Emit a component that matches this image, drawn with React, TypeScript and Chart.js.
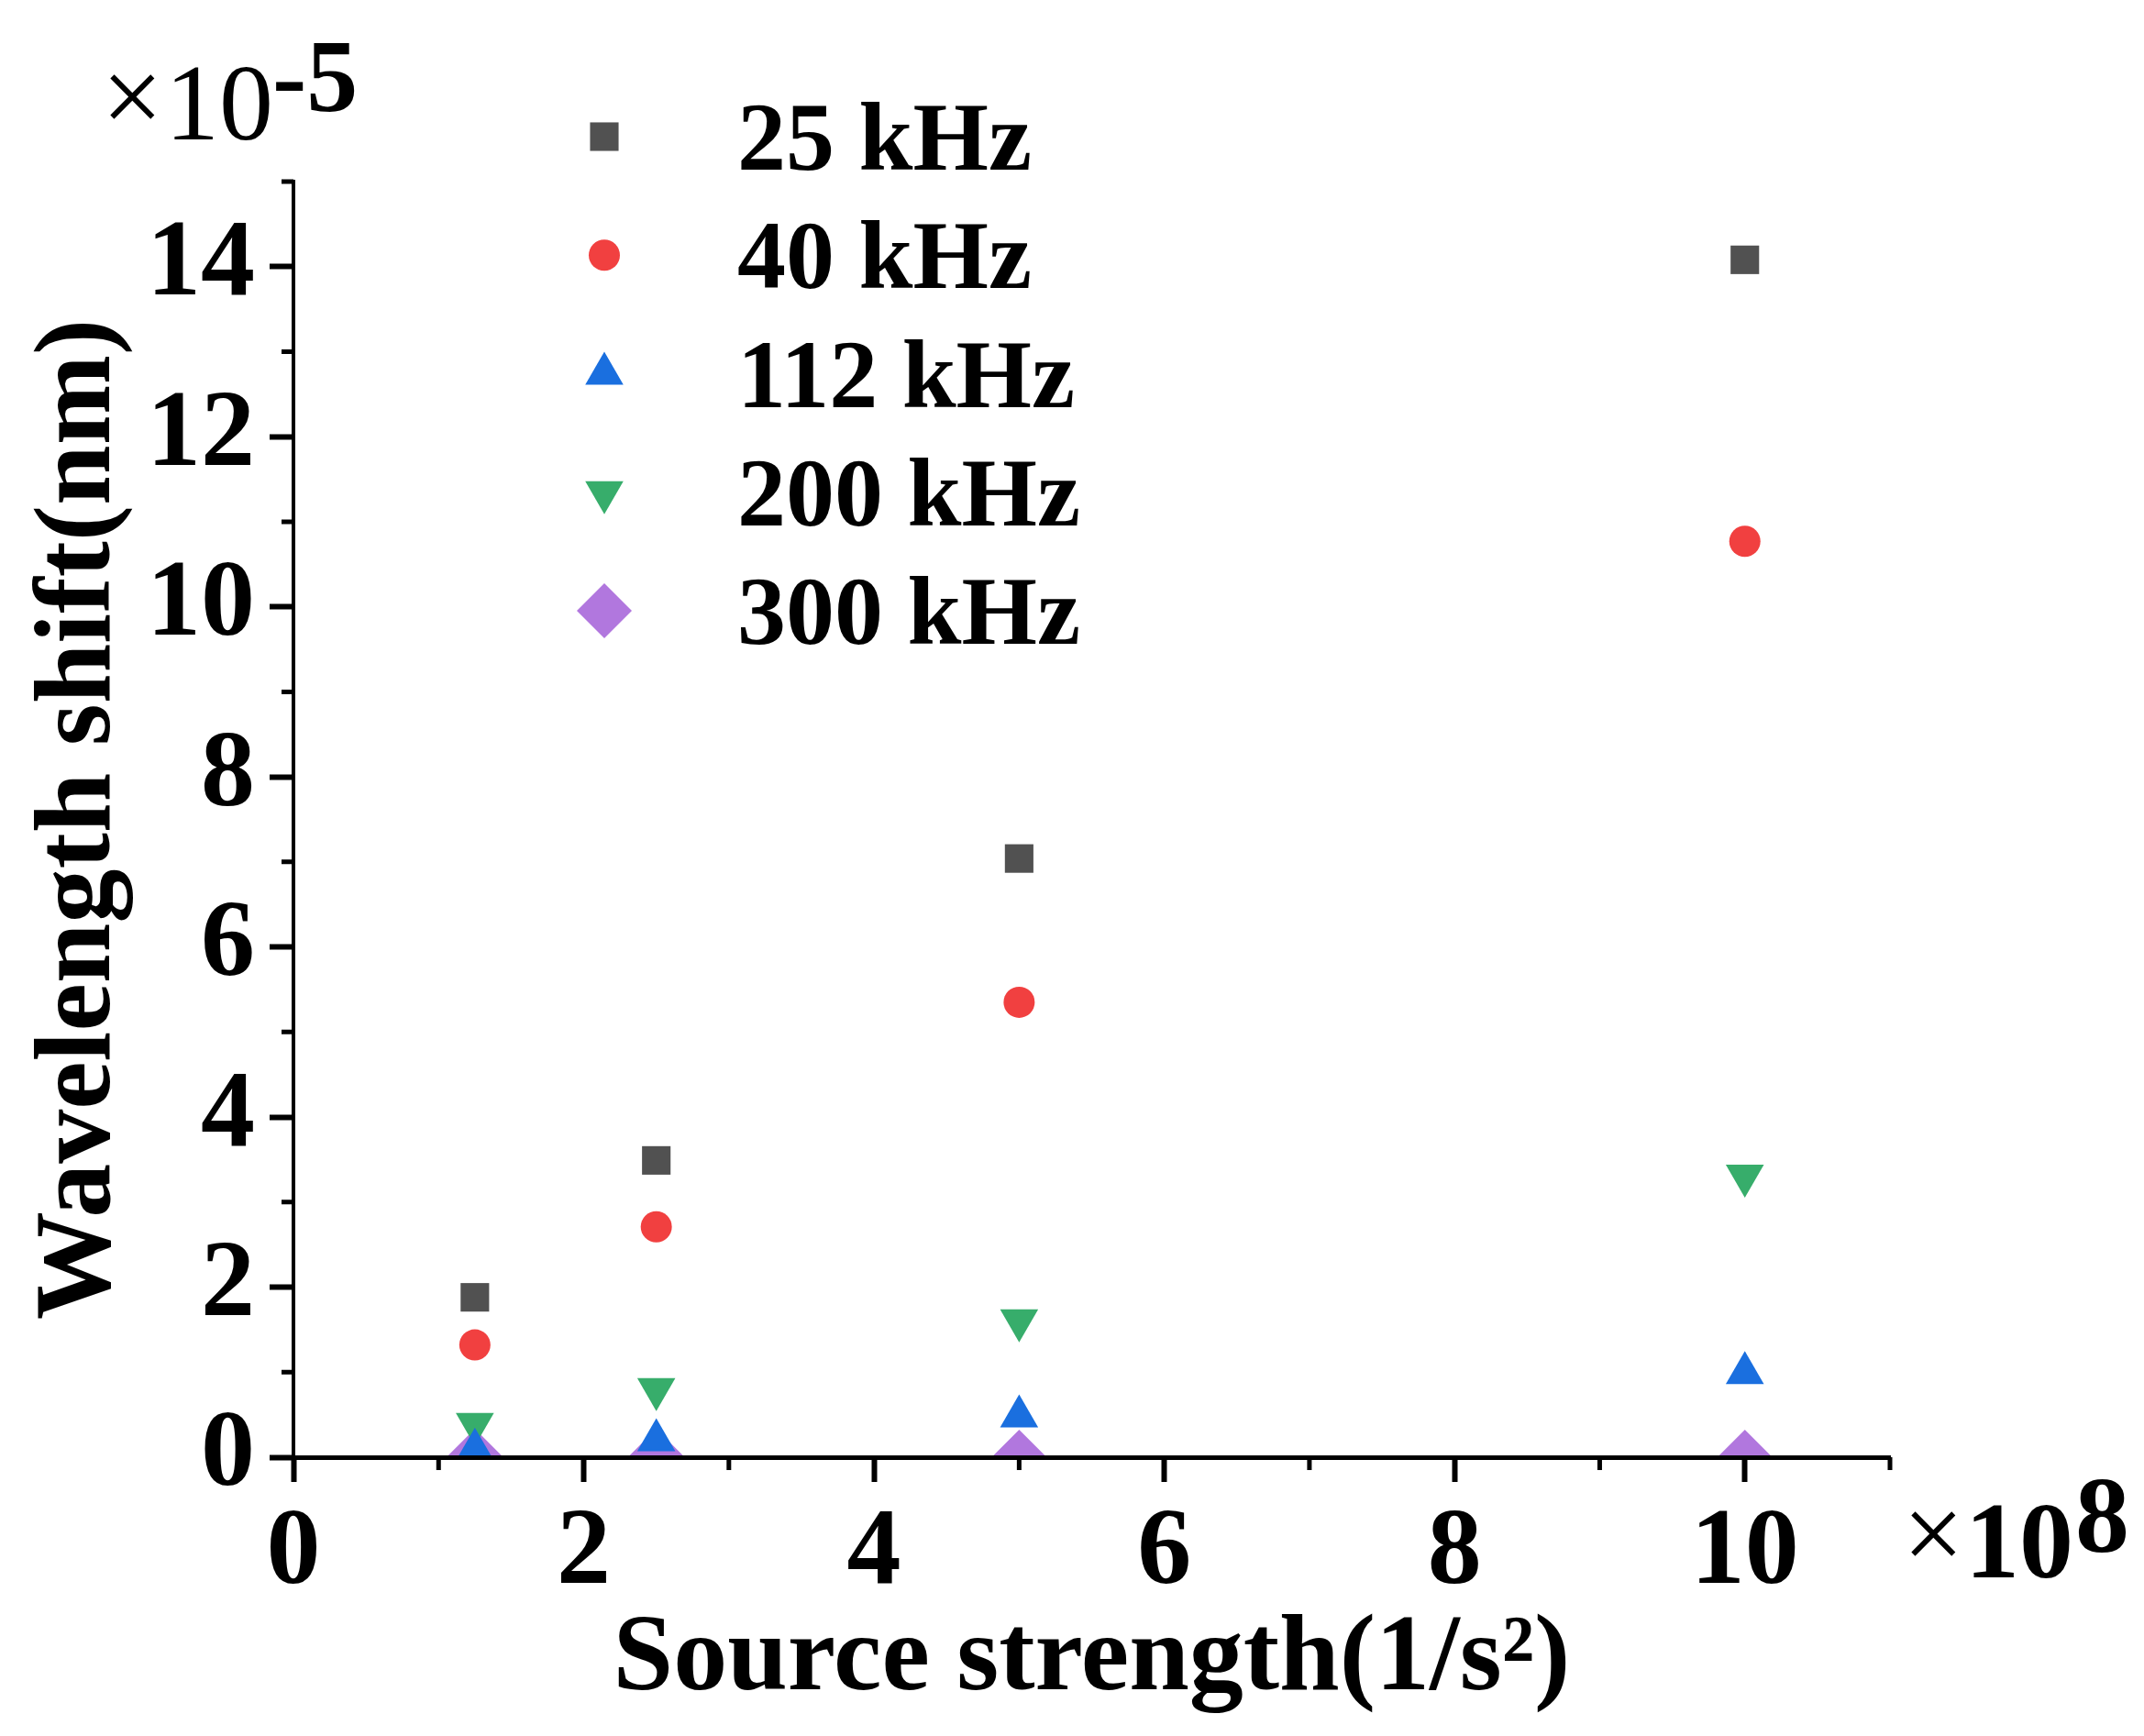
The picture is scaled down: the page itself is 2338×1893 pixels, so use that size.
import { useEffect, useRef } from 'react';
import Chart from 'chart.js/auto';
import { drawPoint } from 'chart.js/helpers';

// source strength, in units of 1e8 1/s^2
const sourceStrength = [1.25, 2.5, 5, 10];

const seriesLabels = ['25 kHz', '40 kHz', '112 kHz', '200 kHz', '300 kHz'];

// wavelength shift, in units of 1e-5 nm
const shift25 = [1.88, 3.49, 7.04, 14.08];
const shift40 = [1.32, 2.71, 5.35, 10.77];
const shift112 = [0.09, 0.2, 0.48, 0.99];
const shift200 = [0.39, 0.8, 1.61, 3.31];
const shift300 = [0.01, 0.01, 0, 0];

const seriesValues = [shift25, shift40, shift112, shift200, shift300];
const seriesColors = ['#515151', '#F14040', '#1A6FDF', '#37AD6B', '#B177DE'];
const seriesStyles = ['rect', 'circle', 'triangle', 'triangle', 'rectRot'];
const seriesRotation = [0, 0, 0, 180, 0];
const seriesRadius = [22, 17, 24, 24, 30];

const FONT = "'Liberation Serif', 'Times New Roman', serif";

// keep markers inside the plot box (points sitting on the x axis are cut in half)
const clipToArea = {
  id: 'clipToArea',
  beforeDatasetsDraw(chart: any) {
    const { ctx, chartArea } = chart;
    ctx.save();
    ctx.beginPath();
    ctx.rect(chartArea.left, chartArea.top, chartArea.right - chartArea.left, chartArea.bottom - chartArea.top);
    ctx.clip();
  },
  afterDatasetsDraw(chart: any) {
    chart.ctx.restore();
  }
};

const minorTicks = {
  id: 'minorTicks',
  afterDraw(chart: any) {
    const { ctx, chartArea, scales } = chart;
    const { x, y } = scales;
    ctx.save();
    ctx.strokeStyle = '#000';
    ctx.lineWidth = 5;
    ctx.beginPath();
    x.ticks.forEach((t: any) => {
      if (t.value % 2 !== 1) return;
      const px = x.getPixelForValue(t.value);
      ctx.moveTo(px, chartArea.bottom);
      ctx.lineTo(px, chartArea.bottom + 14);
    });
    y.ticks.forEach((t: any) => {
      if (t.value % 2 !== 1) return;
      const py = y.getPixelForValue(t.value);
      ctx.moveTo(chartArea.left, py);
      ctx.lineTo(chartArea.left - 13, py);
    });
    ctx.stroke();
    ctx.restore();
  }
};

const legendAndExponents = {
  id: 'legendAndExponents',
  afterDraw(chart: any) {
    const { ctx, chartArea } = chart;
    ctx.save();

    // legend, placed over the top-left part of the plot
    const mx = chartArea.left + 339;
    const tx = chartArea.left + 484;
    chart.data.datasets.forEach((ds: any, i: number) => {
      const ry = chartArea.top - 49 + i * 129.25;
      ctx.fillStyle = ds.backgroundColor;
      drawPoint(ctx, {
        pointStyle: ds.pointStyle,
        rotation: ds.pointRotation,
        radius: ds.pointRadius,
        borderWidth: 0
      }, mx, ry);
      ctx.fillStyle = '#000';
      ctx.font = `bold 106px ${FONT}`;
      ctx.textBaseline = 'alphabetic';
      ctx.textAlign = 'left';
      ctx.fillText(ds.label, tx, ry + 36);
    });

    // y multiplier, top left
    ctx.fillStyle = '#000';
    ctx.textAlign = 'left';
    ctx.textBaseline = 'alphabetic';
    const ly = chartArea.left;
    ctx.font = `118px ${FONT}`;
    ctx.fillText('×', ly - 209, 145);
    ctx.fillText('10', ly - 140, 152);
    ctx.font = `bold 112px ${FONT}`;
    ctx.fillText('-5', ly - 23, 121);

    // x multiplier, bottom right
    const rx = chartArea.right;
    const by = chartArea.bottom;
    ctx.font = `118px ${FONT}`;
    ctx.fillText('×', rx + 14, by + 123);
    ctx.font = `bold 118px ${FONT}`;
    ctx.fillText('10', rx + 82, by + 131);
    ctx.fillText('8', rx + 202, by + 103);

    ctx.restore();
  }
};

export default function App() {
  const canvasRef = useRef<HTMLCanvasElement>(null);
  const chartRef = useRef<Chart | null>(null);

  useEffect(() => {
    if (!canvasRef.current) return;
    if (chartRef.current) chartRef.current.destroy();

    const datasets = seriesLabels.map((label, i) => ({
      label,
      data: sourceStrength.map((s, j) => ({ x: s, y: seriesValues[i][j] })),
      backgroundColor: seriesColors[i],
      borderColor: seriesColors[i],
      pointStyle: seriesStyles[i],
      pointRotation: seriesRotation[i],
      pointRadius: seriesRadius[i],
      pointBorderWidth: 0,
      showLine: false,
      clip: 0
    }));

    const tickFont = { family: FONT, size: 118, weight: 'bold' as const };

    chartRef.current = new Chart(canvasRef.current, {
      type: 'scatter',
      data: { datasets },
      options: {
        animation: false,
        responsive: true,
        maintainAspectRatio: false,
        layout: { padding: { top: 198, right: 277, left: 0, bottom: 0 } },
        plugins: {
          legend: { display: false },
          tooltip: { enabled: false }
        },
        scales: {
          x: {
            type: 'linear',
            min: 0,
            max: 11,
            afterFit: (s: any) => { s.height = 304; },
            ticks: {
              stepSize: 1,
              autoSkip: false,
              maxRotation: 0,
              padding: 9,
              color: '#000',
              font: tickFont,
              callback: (v: any) => (v % 2 === 0 ? String(v) : '')
            },
            grid: {
              display: true,
              drawOnChartArea: false,
              drawTicks: true,
              tickLength: 27,
              tickWidth: 6,
              tickColor: (c: any) => (c.tick && c.tick.value % 2 === 0 ? '#000' : 'rgba(0,0,0,0)')
            },
            border: { display: true, color: '#000', width: 5, z: 1 },
            title: {
              display: true,
              text: 'Source strength(1/s²)',
              color: '#000',
              font: { family: FONT, size: 118, weight: 'bold' },
              padding: { top: 0, bottom: 11 }
            }
          },
          y: {
            type: 'linear',
            min: 0,
            max: 15,
            afterFit: (s: any) => { s.width = 320; },
            ticks: {
              stepSize: 1,
              autoSkip: false,
              padding: 16,
              color: '#000',
              font: tickFont,
              callback: (v: any) => (v % 2 === 0 ? String(v) : '')
            },
            grid: {
              display: true,
              drawOnChartArea: false,
              drawTicks: true,
              tickLength: 26,
              tickWidth: 6,
              tickColor: (c: any) => (c.tick && c.tick.value % 2 === 0 ? '#000' : 'rgba(0,0,0,0)')
            },
            border: { display: true, color: '#000', width: 4, z: 1 },
            title: {
              display: true,
              text: 'Wavelength shift(nm)',
              color: '#000',
              font: { family: FONT, size: 118, weight: 'bold' },
              padding: { top: 18, bottom: 0 }
            }
          }
        }
      },
      plugins: [clipToArea, minorTicks, legendAndExponents]
    });

    return () => {
      if (chartRef.current) {
        chartRef.current.destroy();
        chartRef.current = null;
      }
    };
  }, []);

  return (
    <div style={{ position: 'absolute', left: 0, top: 0, width: 2338, height: 1893, background: '#fff' }}>
      <canvas ref={canvasRef} />
    </div>
  );
}
